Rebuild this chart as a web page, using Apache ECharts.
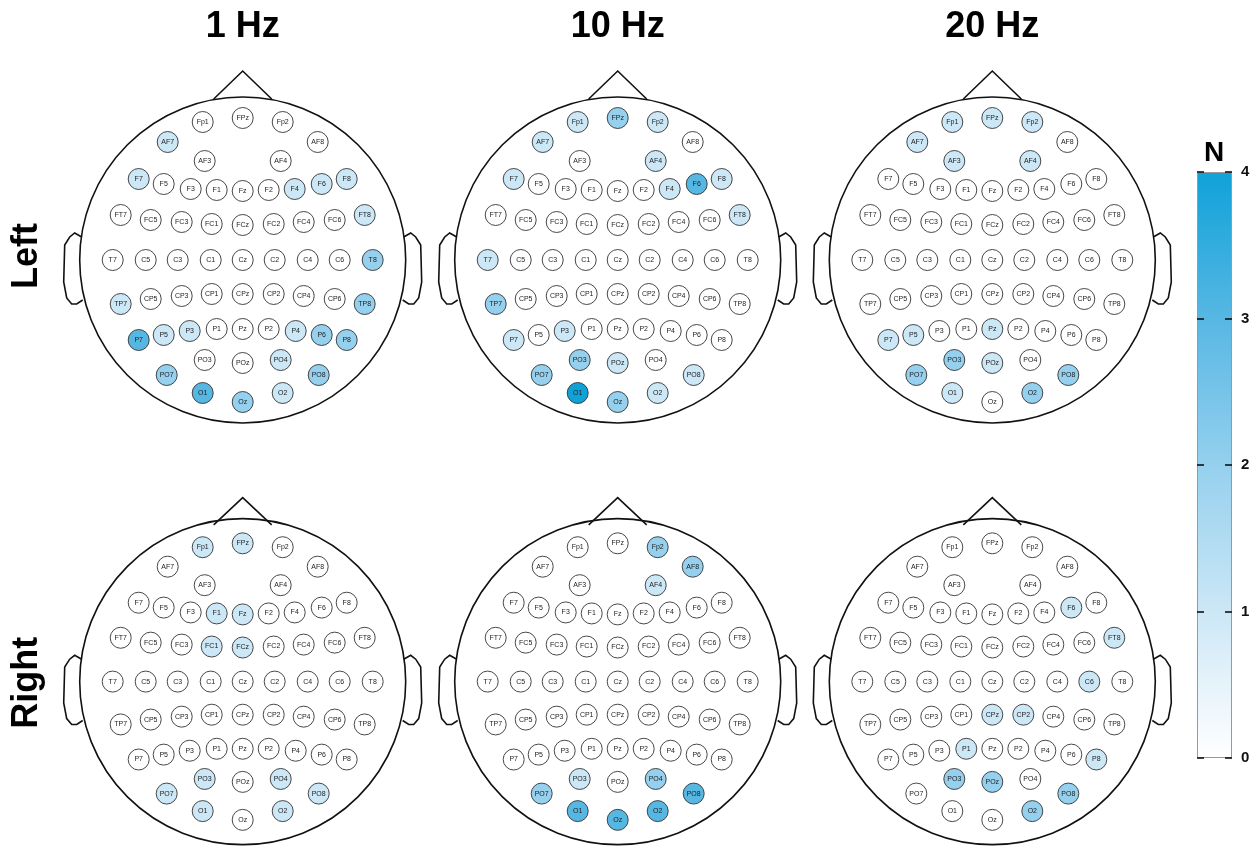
<!DOCTYPE html>
<html lang="en">
<head>
    <meta charset="UTF-8">
    <title>EEG electrodes - N</title>
    <script src="https://cdn.jsdelivr.net/npm/echarts/dist/echarts.min.js"></script>
    <style>
        html, body { margin: 0; padding: 0; background: #fff; }
        #chart { width: 1258px; height: 852px; }
    </style>
</head>
<body>
<div id="chart"></div>

<script>
    // electrode layout (head units, Cz at 0,0, y up)
    const electrodes = ['Fp1','FPz','Fp2',
        'AF7','AF3','AF4','AF8',
        'F7','F5','F3','F1','Fz','F2','F4','F6','F8',
        'FT7','FC5','FC3','FC1','FCz','FC2','FC4','FC6','FT8',
        'T7','C5','C3','C1','Cz','C2','C4','C6','T8',
        'TP7','CP5','CP3','CP1','CPz','CP2','CP4','CP6','TP8',
        'P7','P5','P3','P1','Pz','P2','P4','P6','P8',
        'PO7','PO3','POz','PO4','PO8',
        'O1','Oz','O2'];
    const posX = [-40,0,40,
        -75,-38,38,75,
        -104,-79,-52,-26,0,26,52,79,104,
        -122,-92,-61,-31,0,31,61,92,122,
        -130,-97,-65,-32,0,32,65,97,130,
        -122,-92,-61,-31,0,31,61,92,122,
        -104,-79,-53,-26,0,26,53,79,104,
        -76,-38,0,38,76,
        -40,0,40];
    const posY = [138,142,138,
        118,99,99,118,
        81,76,71,70,69,70,71,76,81,
        45,40,38,36,35,36,38,40,45,
        0,0,0,0,0,0,0,0,0,
        -44,-39,-36,-34,-34,-34,-36,-39,-44,
        -80,-75,-71,-69,-69,-69,-71,-75,-80,
        -115,-100,-103,-100,-115,
        -133,-142,-133];

    const freqs = ['1 Hz', '10 Hz', '20 Hz'];
    const sides = ['Left', 'Right'];

    // N per electrode, same order as electrodes
    const left1Hz = [0,0,0,
        1,0,0,0,
        1,0,0,0,0,0,1,1,1,
        0,0,0,0,0,0,0,0,1,
        0,0,0,0,0,0,0,0,2,
        1,0,0,0,0,0,0,0,2,
        3,1,1,0,0,0,1,2,2,
        2,0,0,1,2,
        3,2,1];
    const left10Hz = [1,2,1,
        1,0,1,0,
        1,0,0,0,0,0,1,3,1,
        0,0,0,0,0,0,0,0,1,
        1,0,0,0,0,0,0,0,0,
        2,0,0,0,0,0,0,0,0,
        1,0,1,0,0,0,0,0,0,
        2,2,1,0,1,
        4,2,1];
    const left20Hz = [1,1,1,
        1,1,1,0,
        0,0,0,0,0,0,0,0,0,
        0,0,0,0,0,0,0,0,0,
        0,0,0,0,0,0,0,0,0,
        0,0,0,0,0,0,0,0,0,
        1,1,0,0,1,0,0,0,0,
        2,2,1,0,2,
        1,0,2];
    const right1Hz = [1,1,0,
        0,0,0,0,
        0,0,0,1,1,0,0,0,0,
        0,0,0,1,1,0,0,0,0,
        0,0,0,0,0,0,0,0,0,
        0,0,0,0,0,0,0,0,0,
        0,0,0,0,0,0,0,0,0,
        1,1,0,1,1,
        1,0,1];
    const right10Hz = [0,0,2,
        0,0,1,2,
        0,0,0,0,0,0,0,0,0,
        0,0,0,0,0,0,0,0,0,
        0,0,0,0,0,0,0,0,0,
        0,0,0,0,0,0,0,0,0,
        0,0,0,0,0,0,0,0,0,
        2,1,0,2,3,
        3,3,3];
    const right20Hz = [0,0,0,
        0,0,0,0,
        0,0,0,0,0,0,0,1,0,
        0,0,0,0,0,0,0,0,1,
        0,0,0,0,0,0,0,1,0,
        0,0,0,0,1,1,0,0,0,
        0,0,0,1,0,0,0,0,1,
        0,2,2,0,2,
        0,0,2];

    const panels = [left1Hz, left10Hz, left20Hz, right1Hz, right10Hz, right20Hz];
    const colorTicks = [0, 1, 2, 3, 4];
    const colorStops = ['#ffffff', '#cce7f6', '#95d0ee', '#57b7e3', '#0fa2d9'];

    // head outline shape (same units as electrodes)
    const HEAD_R = 163;
    const NOSE = [[-29,161],[0,189],[29,161]];
    const EAR = [[-161,23],[-168,27],[-173,23],[-178,15],[-179,-22],[-176,-38],[-171,-44],[-166,-44],[-160,-40]];

    const colCenters = [242.7, 617.7, 992.3];
    const rowCenters = [260, 686.7];
    const FONT = '"Liberation Sans", Arial, sans-serif';

    function renderHead(params, api) {
        const c = api.coord([0, 0]);
        const r = api.coord([HEAD_R, 0])[0] - c[0];
        const pts = arr => arr.map(p => api.coord(p));
        const line = { stroke: '#111', lineWidth: 1.6, fill: null };
        return {
            type: 'group',
            children: [
                { type: 'circle', shape: { cx: c[0], cy: c[1], r: r }, style: { stroke: '#111', lineWidth: 1.6, fill: '#fff' } },
                { type: 'polyline', shape: { points: pts(NOSE) }, style: line },
                { type: 'polyline', shape: { points: pts(EAR) }, style: line },
                { type: 'polyline', shape: { points: pts(EAR.map(p => [-p[0], p[1]])) }, style: line }
            ]
        };
    }

    const grids = [], xAxes = [], yAxes = [], series = [], scatterIdx = [];
    panels.forEach((vals, i) => {
        const row = Math.floor(i / 3), col = i % 3;
        const cx = colCenters[col], cy = rowCenters[row];
        grids.push({ left: cx - 185, top: cy - 195, width: 370, height: 370 });
        xAxes.push({ gridIndex: i, type: 'value', min: -185, max: 185, show: false });
        yAxes.push({ gridIndex: i, type: 'value', min: -175, max: 195, show: false });
        series.push({
            type: 'custom', xAxisIndex: i, yAxisIndex: i, silent: true, clip: false, z: 1,
            data: [[0, 0]], renderItem: renderHead
        });
        scatterIdx.push(series.length);
        series.push({
            type: 'scatter', xAxisIndex: i, yAxisIndex: i, z: 3,
            symbolSize: 21,
            data: electrodes.map((n, k) => [posX[k], posY[k], vals[k], n]),
            itemStyle: { borderColor: '#333', borderWidth: 0.9, opacity: 1 },
            label: {
                show: true, position: 'inside', formatter: p => p.data[3],
                fontSize: 7, color: '#222', fontFamily: FONT
            }
        });
    });

    // colour bar
    grids.push({ left: 1197, top: 172, width: 35, height: 586 });
    xAxes.push({ gridIndex: 6, type: 'category', data: ['N'], show: false });
    const tickAxis = (pos, labels) => ({
        gridIndex: 6, type: 'value', min: 0, max: 4, interval: 1, position: pos, z: 5,
        axisLine: { show: false },
        axisTick: { show: true, inside: true, length: 7, lineStyle: { color: '#111', width: 1.6 } },
        splitLine: { show: false },
        axisLabel: { show: labels, fontWeight: 'bold', fontSize: 15, color: '#111', margin: 9, fontFamily: FONT,
            formatter: v => colorTicks.includes(v) ? String(v) : '' }
    });
    yAxes.push(tickAxis('right', true));
    yAxes.push(tickAxis('left', false));
    series.push({
        type: 'bar', xAxisIndex: 6, yAxisIndex: 6, silent: true, barWidth: '100%', z: 2,
        data: [4],
        itemStyle: {
            color: new echarts.graphic.LinearGradient(0, 1, 0, 0,
                colorStops.map((c, k) => ({ offset: k / (colorStops.length - 1), color: c }))),
            borderColor: '#999', borderWidth: 1
        }
    });

    const textEl = (txt, x, y, size, rot) => ({
        type: 'text', x: x, y: y, rotation: rot || 0, silent: true,
        style: {
            text: txt, font: 'bold ' + size + 'px ' + FONT, fill: '#000',
            textAlign: 'center', textVerticalAlign: 'middle', align: 'center', verticalAlign: 'middle'
        }
    });

    const chart = echarts.init(document.getElementById('chart'));
    chart.setOption({
        animation: false,
        backgroundColor: '#fff',
        grid: grids,
        xAxis: xAxes,
        yAxis: yAxes,
        visualMap: {
            type: 'continuous', show: false, min: 0, max: 4, dimension: 2,
            seriesIndex: scatterIdx,
            inRange: { color: colorStops }
        },
        graphic: [
            ...freqs.map((f, k) => textEl(f, colCenters[k], 27, 36)),
            ...sides.map((s, k) => textEl(s, 27, rowCenters[k] - 4, 36, Math.PI / 2)),
            textEl('N', 1214, 153, 28)
        ],
        series: series
    });
</script>
</body>
</html>
